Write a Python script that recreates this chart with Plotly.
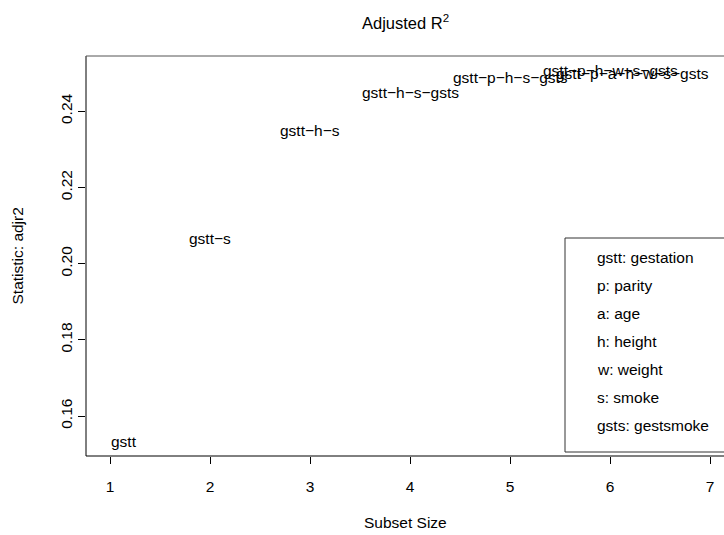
import plotly.graph_objects as go

# Best subset per size (adjusted R^2), labels abbreviated
subset_size = [1, 2, 3, 4, 5, 6, 7]
adjr2 = [0.1534, 0.2066, 0.2350, 0.2448, 0.2489, 0.2506, 0.2500]
subset_labels = [
    "gstt",
    "gstt\u2212s",
    "gstt\u2212h\u2212s",
    "gstt\u2212h\u2212s\u2212gsts",
    "gstt\u2212p\u2212h\u2212s\u2212gsts",
    "gstt\u2212p\u2212h\u2212w\u2212s\u2212gsts",
    "gstt\u2212p\u2212a\u2212h\u2212w\u2212s\u2212gsts",
]
legend_lines = [
    "gstt: gestation",
    "p: parity",
    "a: age",
    "h: height",
    "w: weight",
    "s: smoke",
    "gsts: gestsmoke",
]
x_ticks = [1, 2, 3, 4, 5, 6, 7]
y_ticks = [0.16, 0.18, 0.20, 0.22, 0.24]

FONT = "Liberation Sans, Arial, sans-serif"
FS = 15.5      # axis ticks and titles
FS_LAB = 15.5  # subset labels and key

fig = go.Figure()
# invisible anchor trace so the axes exist
fig.add_trace(go.Scatter(x=subset_size, y=adjr2, mode="markers",
                         marker=dict(opacity=0, size=1), hoverinfo="skip", showlegend=False))

annotations = []
lo, hi = min(subset_size), max(subset_size)
for s, v, lab in zip(subset_size, adjr2, subset_labels):
    anchor = "left" if s == lo else ("right" if s == hi else "center")
    annotations.append(dict(x=s, y=v, xref="x", yref="y", text=lab, showarrow=False,
                            xanchor=anchor, yanchor="middle", borderpad=0,
                            font=dict(family=FONT, size=FS_LAB, color="black")))

# key text block
leg_top = 0.4975
step = 0.07
for i, t in enumerate(legend_lines):
    annotations.append(dict(x=5.85, y=leg_top - i * step, xref="x", yref="paper", text=t,
                            showarrow=False, xanchor="left", yanchor="middle",
                            font=dict(family=FONT, size=FS_LAB, color="black")))

# titles
annotations.append(dict(x=0.5, y=1, xref="paper", yref="paper", text="Adjusted R<sup>2</sup>",
                        showarrow=False, xanchor="center", yanchor="bottom", yshift=22,
                        font=dict(family=FONT, size=16.5, color="black")))
annotations.append(dict(x=0.5, y=0, xref="paper", yref="paper", text="Subset Size",
                        showarrow=False, xanchor="center", yanchor="top", yshift=-56,
                        font=dict(family=FONT, size=FS, color="black")))
annotations.append(dict(x=0, y=0.5, xref="paper", yref="paper", text="Statistic: adjr2",
                        showarrow=False, xanchor="right", yanchor="middle", xshift=-59,
                        textangle=-90,
                        font=dict(family=FONT, size=FS, color="black")))

shapes = [
    # plot box (left, bottom, top)
    dict(type="line", xref="paper", yref="paper", x0=0, x1=0, y0=0, y1=1, line=dict(color="black", width=1)),
    dict(type="line", xref="paper", yref="paper", x0=0, x1=1.05, y0=0, y1=0, line=dict(color="black", width=1)),
    dict(type="line", xref="paper", yref="paper", x0=0, x1=1.05, y0=1, y1=1, line=dict(color="#555555", width=1)),
    # key box
    dict(type="rect", xref="x", yref="paper", x0=5.55, x1=7.5, y0=0.01, y1=0.545,
         line=dict(color="#333333", width=1), fillcolor="white", layer="below"),
]

fig.update_layout(
    width=724, height=535,
    margin=dict(l=86, r=0, t=56, b=79),
    paper_bgcolor="white", plot_bgcolor="white",
    showlegend=False,
    xaxis=dict(range=[0.76, 7.14], tickmode="array", tickvals=x_ticks,
               ticktext=[str(v) for v in x_ticks],
               ticks="outside", ticklen=7, tickcolor="black", showgrid=False, zeroline=False,
               showline=False, ticklabelstandoff=9,
               tickfont=dict(family=FONT, size=FS, color="black")),
    yaxis=dict(range=[0.1495, 0.2545], tickmode="array", tickvals=y_ticks,
               ticktext=["%.2f" % v for v in y_ticks], tickangle=-90,
               ticks="outside", ticklen=7, tickcolor="black", showgrid=False, zeroline=False,
               showline=False, tickfont=dict(family=FONT, size=FS, color="black")),
    annotations=annotations,
    shapes=shapes,
)

fig.write_html("out.html")
